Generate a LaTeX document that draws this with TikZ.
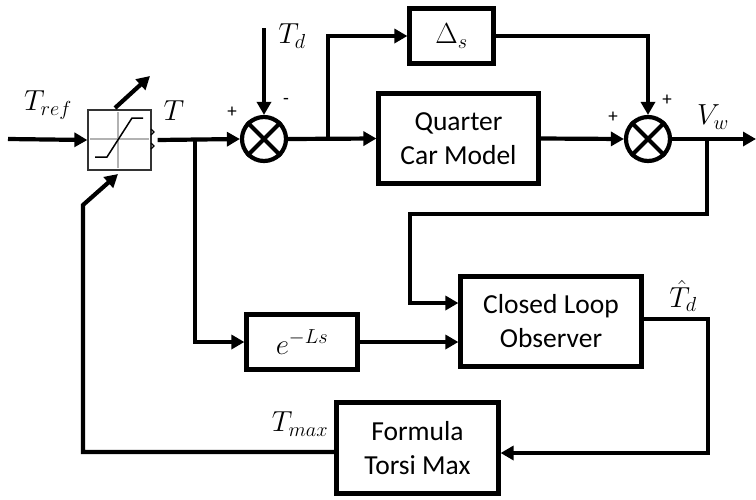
\RequirePackage{fix-cm}
\documentclass[tikz,border=0pt]{standalone}
\usepackage{fontspec}
\setmainfont{Carlito}
\usetikzlibrary{arrows.meta,calc}
\begin{document}
\begin{tikzpicture}[x=1pt,y=-1pt,
  line width=4.2pt,
  arr/.style={-{Triangle[length=13pt,width=14pt]}},
  blk/.style={draw,line width=4.2pt,rectangle,inner sep=0pt,align=center,font=\fontsize{27.5}{34}\selectfont},
  sumj/.style={draw,line width=4.2pt,circle,minimum size=44pt,inner sep=0pt},
  lab/.style={font=\fontsize{29}{32}\selectfont,inner sep=0pt},
  sgn/.style={font=\fontsize{19}{22}\selectfont,inner sep=0pt}]
\useasboundingbox (0,0) rectangle (756,499);

% blocks
\node[draw,line width=1.3pt,draw=black!80,minimum width=63pt,minimum height=60pt,inner sep=0pt] (sat) at (119.5,140) {};
\node[sumj] (sum1) at (264,139) {};
\node[sumj] (sum2) at (648,139) {};
\node[blk,minimum width=84pt,minimum height=55pt] (delta) at (451.5,36) {\fontsize{29}{32}\selectfont$\Delta_s$};
\node[blk,minimum width=160pt,minimum height=90pt] (qcm) at (458.5,138.5) {Quarter\\Car Model};
\node[blk,minimum width=181pt,minimum height=90pt] (obs) at (551,321.5) {Closed Loop\\Observer};
\node[blk,minimum width=111pt,minimum height=55pt] (ebox) at (302,342) {\fontsize{29}{32}\selectfont$e^{-Ls}$};
\node[blk,minimum width=162pt,minimum height=91pt] (form) at (417.5,448) {Formula\\Torsi Max};

% sum crosses
\foreach \s in {sum1,sum2}{
  \draw[line width=4.2pt] (\s.45) -- (\s.225);
  \draw[line width=4.2pt] (\s.135) -- (\s.315);
}

% saturation interior
\draw[line width=1.3pt,gray!60] (118,112) -- (118,168);
\draw[line width=1.3pt,gray!60] (90,139) -- (149,139);
\draw[line width=1.5pt,black] (95,157) -- (107,157) -- (132,118) -- (143,118);
\draw[line width=1.2pt] (151,129) -- (154,132) -- (151,135);
\draw[line width=1.2pt] (151,143) -- (154,146) -- (151,149);

% coordinates
\coordinate (in) at (8,139);
\coordinate (tdin) at (264,28);
\coordinate (br1) at (328,139);
\coordinate (out) at (756,139);
\coordinate (br2) at (707,139);
\coordinate (fb1) at (707,214);
\coordinate (fb2) at (410,214);
\coordinate (fb3) at (410,303);
\coordinate (br3) at (195,139);
\coordinate (c1) at (708,453);
\coordinate (c2) at (83,452);
\coordinate (c3) at (83,205);
\coordinate (c4) at (118,174);
\coordinate (c5) at (115,108);
\coordinate (c6) at (150,76);

% connectors
\draw[arr] (in) -- (sat.west);
\draw[arr] ([xshift=6pt]sat.east) -- (sum1.west);
\draw[arr] (tdin) -- (sum1.north);
\draw[arr] (sum1.east) -- (qcm.west);
\draw[arr] (br1) |- (delta.west);
\draw[arr] (delta.east) -| (sum2.north);
\draw[arr] (qcm.east) -- (sum2.west);
\draw[arr] (sum2.east) -- (out);
\draw[arr] (br2) -- (fb1) -- (fb2) -- (fb3) -- (obs.west |- fb3);
\draw[arr] (br3) |- (ebox.west);
\draw[arr] (ebox.east) -- (obs.west |- ebox.east);
\draw[arr] ([yshift=2.5pt]obs.east) -| (c1) -- (form.east |- c1);
\draw[arr] (form.west |- c2) -- (c2) -- (c3) -- (c4);
\draw[arr] (c5) -- (c6);

% labels
\node[lab] (ltref) at (48,105) {$T_{ref}$};
\node[lab] (lt) at (174,111) {$T$};
\node[lab] (ltd) at (292,36) {$T_d$};
\node[lab] (lvw) at (713,117) {$V_w$};
\node[lab] (ltdh) at (683,296) {$\hat{T}_d$};
\node[lab] (ltmax) at (300,424) {$T_{max}$};
\node[sgn] (p1) at (232,112) {+};
\node[sgn] (m1) at (286,101) {-};
\node[sgn] (p2) at (613,117) {+};
\node[sgn] (p3) at (667,100) {+};
\end{tikzpicture}
\end{document}
